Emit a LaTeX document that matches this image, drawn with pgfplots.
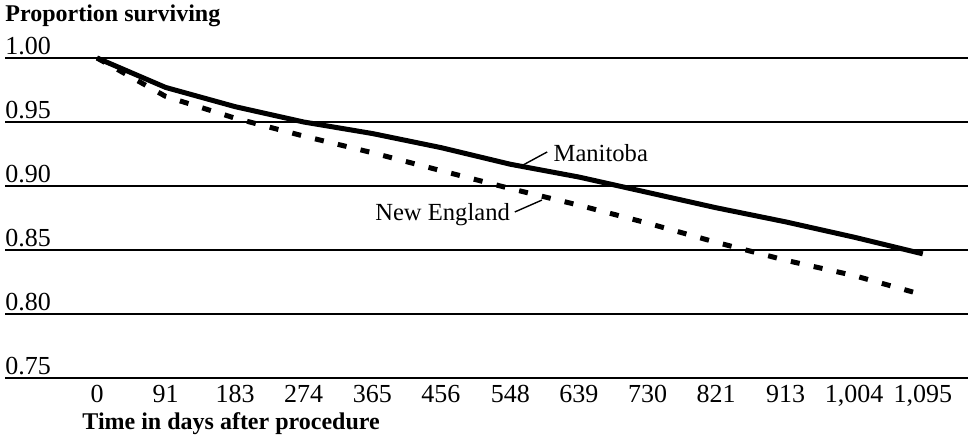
\documentclass[border=0pt]{standalone}
\usepackage{fontspec}
\setmainfont{Liberation Serif}
\usepackage{pgfplots}
\pgfplotsset{compat=1.18}
\begin{document}
\fontsize{12}{14}\selectfont
\begin{tikzpicture}
\begin{axis}[
  scale only axis,
  width=481.5pt, height=160pt,
  xmin=-122, xmax=1155,
  ymin=0.75, ymax=1.00,
  axis line style={draw=none},
  clip=false,
  ytick={0.75,0.80,0.85,0.90,0.95,1.00},
  yticklabels={0.75,0.80,0.85,0.90,0.95,1.00},
  ymajorgrids,
  grid style={black, line width=1pt},
  major tick length=0pt,
  yticklabel style={anchor=base west, inner xsep=0pt, inner ysep=0pt, yshift=1.6pt, font=\fontsize{13}{15}\selectfont},
  xtick={0,91,183,274,365,456,548,639,730,821,913,1004,1095},
  xticklabels={0,91,183,274,365,456,548,639,730,821,913,{1,004},{1,095}},
  xticklabel style={anchor=base, inner ysep=0pt, yshift=-12.5pt, font=\fontsize{13}{15}\selectfont},
]
\draw[black, line width=1.4pt] (rel axis cs:0,0) -- (rel axis cs:1,0);
\addplot[black, line width=2.5pt] coordinates {
(0,1.000) (91,0.977) (183,0.962) (274,0.950) (365,0.941) (456,0.930)
(548,0.917) (639,0.907) (730,0.895) (821,0.883) (913,0.872) (1004,0.860) (1095,0.847)
};
\addplot[black, line width=2.5pt, dash pattern=on 4.5pt off 7.2pt] coordinates {
(0,1.000) (91,0.970) (183,0.953) (274,0.939) (365,0.926) (456,0.912)
(548,0.898) (639,0.885) (730,0.871) (821,0.856) (913,0.842) (1004,0.830) (1095,0.815)
};
\draw[black, line width=0.7pt] (axis cs:565,0.9164) -- (axis cs:597,0.9266);
\node[anchor=base west, inner sep=0pt, font=\fontsize{12.3}{14}\selectfont] at (axis cs:605,0.9188) {Manitoba};
\draw[black, line width=0.7pt] (axis cs:554,0.8797) -- (axis cs:590,0.889);
\node[anchor=base east, inner sep=0pt, font=\fontsize{12.3}{14}\selectfont] at (axis cs:548,0.8734) {New England};
\node[anchor=base west, inner sep=0pt, font=\bfseries] at (axis description cs:0,1) [yshift=18pt] {Proportion surviving};
\node[anchor=base west, inner sep=0pt, font=\bfseries] at (axis description cs:0.080,0) [yshift=-26pt] {Time in days after procedure};
\coordinate (A) at (rel axis cs:0,0);
\end{axis}
\path (A) ++(-2.5pt,189pt) coordinate (TL);
\path (A) ++(482.5pt,-30pt) coordinate (BR);
\end{tikzpicture}
\end{document}
